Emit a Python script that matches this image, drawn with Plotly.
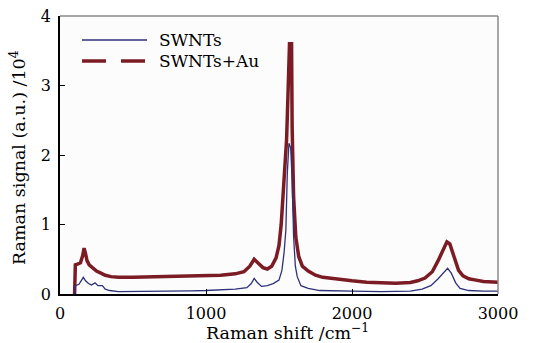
import plotly.graph_objects as go

# ---- data (Raman shift in cm^-1, signal in 10^4 a.u.) ----
swnt_x = [100, 105, 130, 150, 160, 175, 195, 215, 240, 260, 290, 310, 340, 400, 500, 600, 700, 800,
          900, 1000, 1100, 1200, 1280, 1310, 1330, 1350, 1380, 1420, 1460, 1500, 1520, 1535, 1547,
          1557, 1568, 1580, 1590, 1600, 1612, 1625, 1650, 1700, 1780, 1900, 2000, 2200, 2400, 2480,
          2540, 2590, 2630, 2655, 2680, 2710, 2740, 2800, 2900, 3000]
swnt_y = [0.0, 0.12, 0.14, 0.20, 0.24, 0.19, 0.15, 0.13, 0.16, 0.12, 0.12, 0.07, 0.05, 0.035, 0.035,
          0.035, 0.04, 0.04, 0.045, 0.05, 0.055, 0.07, 0.09, 0.15, 0.225, 0.17, 0.11, 0.12, 0.15, 0.20,
          0.34, 0.60, 0.92, 1.74, 2.17, 2.10, 1.64, 0.82, 0.40, 0.25, 0.12, 0.08, 0.05, 0.04, 0.04,
          0.035, 0.04, 0.07, 0.12, 0.22, 0.32, 0.37, 0.30, 0.16, 0.08, 0.05, 0.04, 0.04]

au_x = [100, 105, 120, 140, 155, 165, 175, 185, 200, 220, 250, 280, 310, 350, 400, 500, 600, 700,
        800, 900, 1000, 1100, 1200, 1260, 1300, 1330, 1360, 1390, 1420, 1450, 1480, 1500, 1515, 1525,
        1540, 1552, 1562, 1572, 1586, 1590, 1600, 1615, 1635, 1660, 1700, 1750, 1800, 1900, 2000,
        2100, 2200, 2300, 2400, 2450, 2500, 2550, 2590, 2620, 2650, 2670, 2690, 2710, 2730, 2760,
        2800, 2850, 2900, 3000]
au_y = [0.0, 0.42, 0.43, 0.45, 0.55, 0.66, 0.58, 0.48, 0.42, 0.38, 0.33, 0.30, 0.27, 0.25, 0.24,
        0.24, 0.245, 0.25, 0.25, 0.255, 0.26, 0.27, 0.29, 0.32, 0.40, 0.50, 0.44, 0.38, 0.36, 0.40,
        0.52, 0.70, 1.00, 1.30, 1.78, 2.22, 2.90, 3.60, 3.60, 2.41, 1.40, 0.82, 0.54, 0.40, 0.33,
        0.27, 0.24, 0.21, 0.19, 0.17, 0.16, 0.155, 0.165, 0.19, 0.23, 0.32, 0.48, 0.63, 0.75, 0.72,
        0.60, 0.45, 0.34, 0.26, 0.22, 0.20, 0.18, 0.17]

x_ticks = [0, 1000, 2000, 3000]
y_ticks = [0, 1, 2, 3, 4]
names = ["SWNTs", "SWNTs+Au"]
x_title = "Raman shift /cm<sup>−1</sup>"
y_title = "Raman signal (a.u.) /10<sup>4</sup>"

BLUE = "#2e307a"
RED = "#7b1c24"
FONT = "DejaVu Serif"

fig = go.Figure()
fig.add_trace(go.Scatter(x=au_x, y=au_y, mode="lines", line=dict(color=RED, width=3.5),
                         name=names[1], showlegend=False))
fig.add_trace(go.Scatter(x=swnt_x, y=swnt_y, mode="lines", line=dict(color=BLUE, width=1.3),
                         name=names[0], showlegend=False))

L, R, T, B = 60, 40, 16, 49
W, H = 538, 343
pw, ph = W - L - R, H - T - B


def px(xp):
    return (xp - L) / pw


def py(yp):
    return (H - B - yp) / ph


shapes = [
    dict(type="line", xref="paper", yref="paper", x0=0, x1=1, y0=1, y1=1,
         line=dict(color="#8a8a8a", width=1.5)),
    dict(type="line", xref="paper", yref="paper", x0=1, x1=1, y0=0, y1=1,
         line=dict(color="#8a8a8a", width=1.5)),
    # legend symbols
    dict(type="line", xref="paper", yref="paper", x0=px(82), x1=px(147), y0=py(40), y1=py(40),
         line=dict(color=BLUE, width=1.3)),
    dict(type="line", xref="paper", yref="paper", x0=px(82), x1=px(106), y0=py(61), y1=py(61),
         line=dict(color=RED, width=3.5)),
    dict(type="line", xref="paper", yref="paper", x0=px(121), x1=px(145), y0=py(61), y1=py(61),
         line=dict(color=RED, width=3.5)),
]
annotations = [
    dict(xref="paper", yref="paper", x=px(157), y=py(40), text=names[0], showarrow=False,
         xanchor="left", yanchor="middle", font=dict(family=FONT, size=17, color="black")),
    dict(xref="paper", yref="paper", x=px(157), y=py(61), text=names[1], showarrow=False,
         xanchor="left", yanchor="middle", font=dict(family=FONT, size=17, color="black")),
    dict(xref="paper", yref="paper", x=px(287), y=py(332), text=x_title, showarrow=False,
         xanchor="center", yanchor="middle", font=dict(family=FONT, size=17.5, color="black")),
    dict(xref="paper", yref="paper", x=px(18), y=py(158), text=y_title, showarrow=False,
         textangle=-90, xanchor="center", yanchor="middle",
         font=dict(family=FONT, size=17.5, color="black")),
]

fig.update_layout(
    width=W, height=H,
    margin=dict(l=L, r=R, t=T, b=B, autoexpand=False),
    paper_bgcolor="white", plot_bgcolor="#fcfcfc",
    font=dict(family=FONT, size=16, color="black"),
    shapes=shapes, annotations=annotations,
    showlegend=False,
)
fig.update_xaxes(range=[0, 3000], tickvals=x_ticks, ticks="inside", ticklen=5, tickcolor="black",
                 showline=True, linecolor="black", linewidth=1.5, showgrid=False, zeroline=False,
                 ticklabelstandoff=4, automargin=False, tickfont=dict(family=FONT, size=16))
fig.update_yaxes(range=[0, 4], tickvals=y_ticks, ticks="inside", ticklen=5, tickcolor="black",
                 showline=True, linecolor="black", linewidth=1.5, showgrid=False, zeroline=False,
                 ticklabelstandoff=4, automargin=False, tickfont=dict(family=FONT, size=16))

fig.write_html("out.html", config={"displayModeBar": False})

# remove the browser's default body margin so the figure sits at the page corner
with open("out.html", "r", encoding="utf-8") as f:
    html = f.read()
html = html.replace("<body>", '<body style="margin:0;padding:0;overflow:hidden">', 1)
with open("out.html", "w", encoding="utf-8") as f:
    f.write(html)
